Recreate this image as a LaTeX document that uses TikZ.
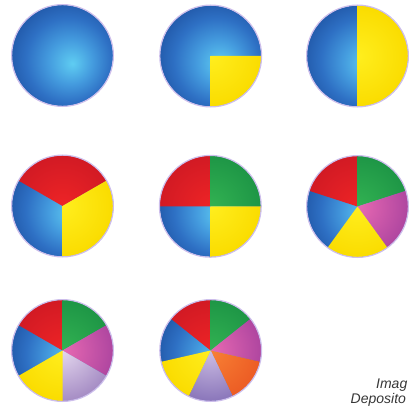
\documentclass[tikz,border=0pt]{standalone}
\usepackage{fontspec}
\setmainfont{Liberation Sans}
\definecolor{bcen}{RGB}{95,205,242}
\definecolor{bmid}{RGB}{68,155,222}
\definecolor{bmid2}{RGB}{46,112,196}
\definecolor{bedge}{RGB}{32,86,166}
\definecolor{halo}{RGB}{205,190,235}
\definecolor{redI}{RGB}{238,36,38}
\definecolor{redO}{RGB}{210,26,36}
\definecolor{greenI}{RGB}{50,178,82}
\definecolor{greenO}{RGB}{30,150,70}
\definecolor{yelI}{RGB}{255,238,30}
\definecolor{yelO}{RGB}{250,220,0}
\definecolor{magI}{RGB}{232,105,178}
\definecolor{magO}{RGB}{175,70,160}
\definecolor{lavI}{RGB}{228,215,238}
\definecolor{lavO}{RGB}{165,140,196}
\definecolor{purI}{RGB}{205,190,228}
\definecolor{purO}{RGB}{138,118,186}
\definecolor{orI}{RGB}{248,128,52}
\definecolor{orO}{RGB}{236,92,36}
\definecolor{txt}{RGB}{55,55,55}
\pgfdeclareradialshading{blueball}{\pgfpoint{5bp}{-4bp}}{color(0bp)=(bcen); color(11bp)=(bmid); color(21bp)=(bmid2); color(30bp)=(bedge); color(50bp)=(bedge)}
\newcommand{\R}{50.5pt}
\newcommand{\ball}[1]{\shade[shading=blueball] (#1) circle[radius=\R];}
\newcommand{\pieslice}[5]{%
  \begin{scope}
    \clip (#1) -- ++(#2:\R) arc[start angle=#2, end angle=#3, radius=\R] -- cycle;
    \shade[inner color=#4I, outer color=#4O] (#1) circle[radius=\R];
  \end{scope}}
\newcommand{\rim}[1]{\draw[halo, line width=1.2pt] (#1) circle[radius=\R+0.4pt];}
\tikzset{credit/.style={font=\itshape\fontsize{14}{14}\selectfont, text=txt, inner sep=0pt}}
\begin{document}
\begin{tikzpicture}[x=1pt,y=1pt]
\useasboundingbox (0,0) rectangle (409,405);
\coordinate (c1) at (62.5,349.5);
\coordinate (c2) at (210.7,349);
\coordinate (c3) at (357.5,349);
\coordinate (c4) at (62.5,199);
\coordinate (c5) at (210.3,198.7);
\coordinate (c6) at (357.5,198.5);
\coordinate (c7) at (62.5,54.5);
\coordinate (c8) at (210.7,54.5);
% circle 1
\ball{c1}\rim{c1}
% circle 2
\ball{c2}
\pieslice{c2}{-90}{0}{yel}{}
\rim{c2}
% circle 3
\ball{c3}
\pieslice{c3}{-90}{90}{yel}{}
\rim{c3}
% circle 4
\ball{c4}
\pieslice{c4}{30}{150}{red}{}
\pieslice{c4}{-90}{30}{yel}{}
\rim{c4}
% circle 5
\ball{c5}
\pieslice{c5}{90}{180}{red}{}
\pieslice{c5}{0}{90}{green}{}
\pieslice{c5}{-90}{0}{yel}{}
\rim{c5}
% circle 6
\ball{c6}
\pieslice{c6}{90}{162}{red}{}
\pieslice{c6}{18}{90}{green}{}
\pieslice{c6}{-54}{18}{mag}{}
\pieslice{c6}{-126}{-54}{yel}{}
\rim{c6}
% circle 7
\ball{c7}
\pieslice{c7}{90}{150}{red}{}
\pieslice{c7}{30}{90}{green}{}
\pieslice{c7}{-30}{30}{mag}{}
\pieslice{c7}{-90}{-30}{lav}{}
\pieslice{c7}{-150}{-90}{yel}{}
\rim{c7}
% circle 8
\ball{c8}
\pieslice{c8}{90}{141.43}{red}{}
\pieslice{c8}{38.57}{90}{green}{}
\pieslice{c8}{-12.86}{38.57}{mag}{}
\pieslice{c8}{-64.29}{-12.86}{or}{}
\pieslice{c8}{-115.71}{-64.29}{pur}{}
\pieslice{c8}{-167.14}{-115.71}{yel}{}
\rim{c8}
% credit
\node[credit, anchor=base east] (t1) at (407.5,16.7) {Imag};
\node[credit, anchor=base west] (t2) at (350.5,2) {Deposito};
\end{tikzpicture}
\end{document}
